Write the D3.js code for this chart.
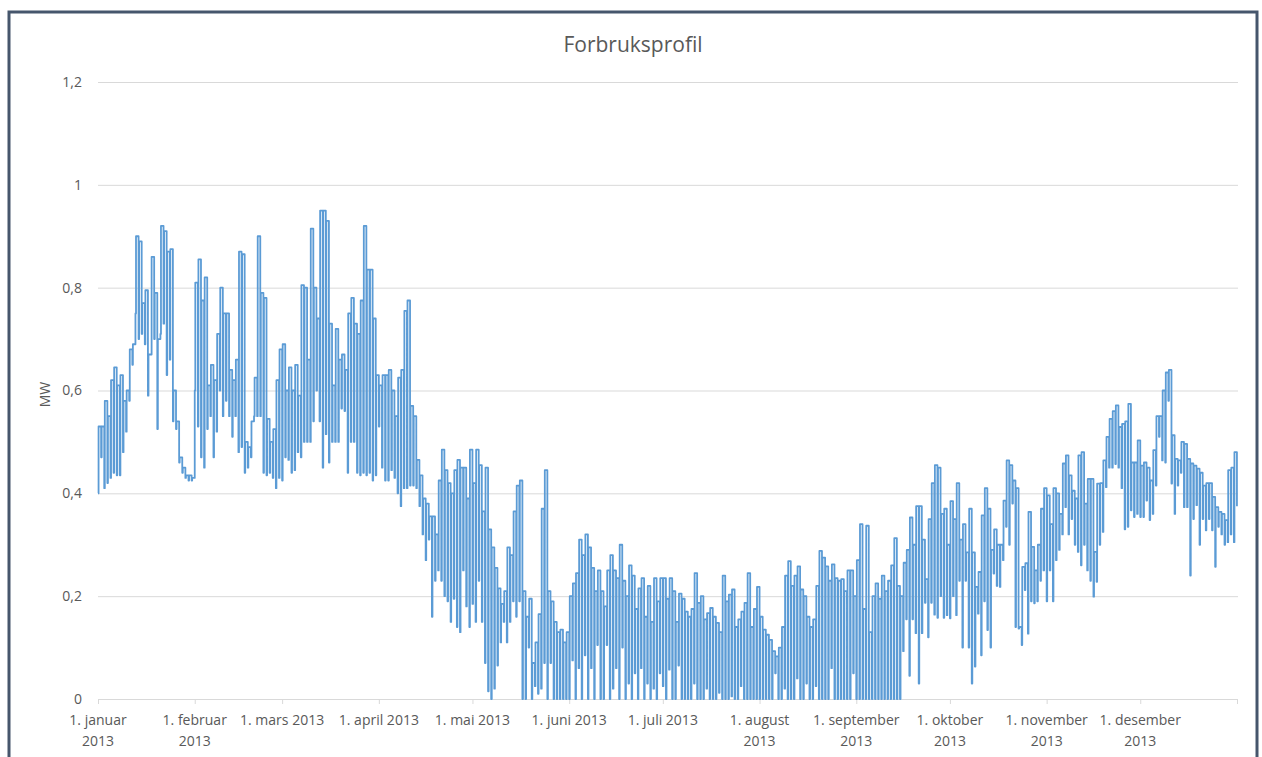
<!DOCTYPE html>
<html><head><meta charset="utf-8">
<script src="https://cdn.jsdelivr.net/npm/d3@7"></script>
<style>
html,body{margin:0;padding:0;background:#fff;}
svg{display:block;}
text{font-family:"Open Sans","Liberation Sans",Arial,sans-serif;fill:#595959;}
</style></head>
<body>
<svg id="chart" width="1262" height="757"></svg>
<script>
// ---- data ----
const title = "Forbruksprofil";
const yTitle = "MW";
const yTicks = [0, 0.2, 0.4, 0.6, 0.8, 1, 1.2];
const monthStartDays = [0, 31, 59, 90, 120, 151, 181, 212, 243, 273, 304, 334];
const monthLabels = [
  ["1. januar", "2013"], ["1. februar", "2013"], ["1. mars 2013"], ["1. april 2013"],
  ["1. mai 2013"], ["1. juni 2013"], ["1. juli 2013"], ["1. august", "2013"],
  ["1. september", "2013"], ["1. oktober", "2013"], ["1. november", "2013"], ["1. desember", "2013"]
];
const daysInYear = 365;

// daily peak (MW)
const dailyHigh = [
  // jan
  0.53,0.53,0.58,0.55,0.62, 0.645,0.61,0.63,0.58,0.60, 0.68,0.69,0.90,0.89,0.77, 0.795,0.67,0.86,0.79,0.70, 0.92,0.91,0.87,0.875,0.60, 0.54,0.47,0.45,0.435,0.435, 0.43,
  // feb
  0.81,0.855,0.775,0.82,0.61, 0.65,0.62,0.71,0.80,0.75, 0.75,0.64,0.62,0.66,0.87, 0.865,0.50,0.49,0.54,0.625, 0.90,0.79,0.78,0.545,0.50, 0.525,0.62,0.68,
  // mar
  0.69,0.60,0.645,0.60,0.65, 0.59,0.805,0.80,0.66,0.915, 0.80,0.74,0.95,0.95,0.93, 0.73,0.61,0.72,0.66,0.67, 0.64,0.75,0.78,0.73,0.71, 0.775,0.92,0.835,0.835,0.74, 0.63,
  // apr
  0.61,0.63,0.63,0.64,0.60, 0.55,0.625,0.64,0.755,0.775, 0.57,0.55,0.465,0.435,0.39, 0.38,0.355,0.355,0.32,0.425, 0.485,0.445,0.42,0.40,0.445, 0.465,0.45,0.45,0.39,0.485,
  // mai
  0.42,0.485,0.455,0.365,0.45, 0.33,0.295,0.255,0.215,0.185, 0.21,0.295,0.28,0.365,0.415, 0.425,0.21,0.16,0.195,0.07, 0.11,0.165,0.37,0.445,0.21, 0.19,0.15,0.13,0.135,0.11, 0.13,
  // jun
  0.20,0.225,0.245,0.31,0.28, 0.32,0.295,0.255,0.21,0.25, 0.21,0.18,0.25,0.28,0.25, 0.235,0.30,0.23,0.20,0.26, 0.24,0.175,0.215,0.235,0.16, 0.22,0.15,0.235,0.19,0.235,
  // jul
  0.235,0.195,0.235,0.21,0.15, 0.205,0.195,0.17,0.16,0.175, 0.245,0.187,0.20,0.155,0.167, 0.177,0.16,0.148,0.13,0.24, 0.19,0.203,0.213,0.14,0.155, 0.17,0.187,0.245,0.14,0.175, 0.218,
  // aug
  0.16,0.135,0.125,0.115,0.093, 0.083,0.10,0.14,0.24,0.268, 0.22,0.24,0.258,0.213,0.20, 0.16,0.14,0.155,0.22,0.288, 0.275,0.258,0.23,0.262,0.235, 0.23,0.233,0.21,0.25,0.25, 0.20,
  // sep
  0.27,0.34,0.175,0.337,0.13, 0.20,0.225,0.195,0.24,0.21, 0.23,0.26,0.313,0.22,0.20, 0.265,0.29,0.353,0.30,0.375, 0.375,0.31,0.233,0.35,0.42, 0.455,0.45,0.36,0.37,0.30,
  // okt
  0.385,0.35,0.42,0.31,0.34, 0.285,0.37,0.285,0.218,0.247, 0.357,0.41,0.37,0.29,0.33, 0.30,0.30,0.386,0.464,0.455, 0.425,0.41,0.14,0.257,0.264, 0.364,0.296,0.25,0.30,0.37, 0.41,
  // nov
  0.396,0.34,0.41,0.40,0.36, 0.458,0.474,0.435,0.405,0.39, 0.474,0.48,0.38,0.428,0.428, 0.286,0.419,0.42,0.464,0.51, 0.545,0.56,0.571,0.529,0.535, 0.54,0.574,0.46,0.46,0.503,
  // des
  0.454,0.46,0.45,0.425,0.484, 0.55,0.55,0.60,0.635,0.64, 0.513,0.467,0.464,0.50,0.496, 0.467,0.458,0.454,0.448,0.44, 0.415,0.42,0.42,0.393,0.373, 0.364,0.36,0.348,0.445,0.45, 0.48
];

// daily minimum (MW)
const dailyLow = [
  // jan
  0.40,0.47,0.41,0.42,0.43, 0.44,0.435,0.435,0.48,0.52, 0.58,0.65,0.75,0.70,0.71, 0.69,0.59,0.67,0.70,0.525, 0.71,0.73,0.63,0.66,0.54, 0.525,0.46,0.44,0.43,0.425, 0.425,
  // feb
  0.60,0.53,0.47,0.45,0.525, 0.55,0.47,0.52,0.60,0.55, 0.58,0.55,0.51,0.55,0.48, 0.49,0.44,0.45,0.47,0.55, 0.55,0.55,0.44,0.435,0.44, 0.43,0.41,0.43,
  // mar
  0.425,0.47,0.465,0.44,0.445, 0.48,0.47,0.50,0.50,0.50, 0.54,0.60,0.54,0.45,0.515, 0.46,0.50,0.50,0.50,0.565, 0.56,0.44,0.50,0.50,0.44, 0.435,0.44,0.435,0.44,0.425, 0.435,
  // apr
  0.53,0.45,0.425,0.425,0.445, 0.43,0.40,0.375,0.41,0.41, 0.415,0.415,0.41,0.375,0.32, 0.27,0.31,0.16,0.23,0.25, 0.23,0.20,0.19,0.15,0.195, 0.14,0.13,0.25,0.18,0.14,
  // mai
  0.185,0.15,0.23,0.15,0.07, 0.015,0.0,0.02,0.065,0.11, 0.15,0.11,0.15,0.19,0.16, 0.19,0.0,0.0,0.10,0.0, 0.025,0.01,0.02,0.07,0.0, 0.07,0.0,0.0,0.0,0.0, 0.0,
  // jun
  0.0,0.075,0.0,0.06,0.0, 0.085,0.0,0.06,0.0,0.105, 0.0,0.0,0.105,0.0,0.02, 0.06,0.0,0.10,0.0,0.03, 0.0,0.05,0.0,0.06,0.0, 0.03,0.0,0.02,0.0,0.05,
  // jul
  0.025,0.0,0.057,0.0,0.0, 0.065,0.0,0.0,0.0,0.0, 0.03,0.0,0.0,0.0,0.02, 0.0,0.0,0.0,0.012,0.0, 0.0,0.0,0.005,0.0,0.0, 0.025,0.0,0.0,0.0,0.0, 0.0,
  // aug
  0.0,0.0,0.0,0.0,0.0, 0.05,0.0,0.0,0.02,0.0, 0.0,0.0,0.04,0.0,0.0, 0.03,0.0,0.0,0.025,0.0, 0.0,0.0,0.0,0.06,0.0, 0.0,0.0,0.0,0.0,0.0, 0.05,
  // sep
  0.0,0.0,0.0,0.0,0.0, 0.0,0.0,0.0,0.0,0.0, 0.0,0.0,0.0,0.0,0.0, 0.093,0.155,0.045,0.155,0.128, 0.03,0.128,0.187,0.12,0.187, 0.164,0.158,0.2,0.158,0.163,
  // okt
  0.157,0.2,0.163,0.23,0.10, 0.23,0.10,0.03,0.063,0.166, 0.085,0.19,0.134,0.10,0.244, 0.22,0.218,0.27,0.335,0.30, 0.38,0.14,0.137,0.105,0.212, 0.127,0.19,0.186,0.19,0.23, 0.25,
  // nov
  0.19,0.25,0.19,0.27,0.29, 0.32,0.373,0.32,0.35,0.30, 0.286,0.26,0.30,0.25,0.23, 0.199,0.228,0.30,0.325,0.412, 0.45,0.45,0.457,0.45,0.41, 0.33,0.335,0.367,0.354,0.36,
  // des
  0.354,0.354,0.386,0.348,0.36, 0.415,0.51,0.464,0.46,0.58, 0.419,0.36,0.415,0.44,0.373, 0.373,0.24,0.35,0.377,0.30, 0.35,0.328,0.35,0.328,0.257, 0.335,0.32,0.30,0.305,0.32, 0.305
];

// ---- layout ----
const W = 1262, H = 757;
const plot = {left: 98, right: 1237, top: 82, bottom: 699};
const svg = d3.select("#chart");

svg.append("rect").attr("x", 0).attr("y", 0).attr("width", W).attr("height", H).attr("fill", "#fff");
// outer frame
svg.append("rect").attr("x", 9).attr("y", 12).attr("width", 1248).attr("height", 780)
  .attr("fill", "none").attr("stroke", "#46566c").attr("stroke-width", 3);

const x = d3.scaleLinear().domain([0, daysInYear]).range([plot.left, plot.right]);
const y = d3.scaleLinear().domain([0, 1.2]).range([plot.bottom, plot.top]);

// gridlines
svg.append("g")
  .attr("transform", `translate(${plot.left},0)`)
  .call(d3.axisLeft(y).tickValues(yTicks.filter(v => v > 0)).tickSize(-(plot.right - plot.left + 1)).tickFormat(""))
  .call(g => g.select(".domain").remove())
  .call(g => g.selectAll("line").attr("stroke", "#d9d9d9").attr("stroke-width", 1));

// y tick labels
const fmt = v => String(+v.toFixed(1)).replace(".", ",");
svg.append("g").selectAll("text").data(yTicks).join("text")
  .attr("x", 82).attr("y", d => y(d)).attr("dy", "0.35em")
  .attr("text-anchor", "end").attr("font-size", 14).text(fmt);

// x axis
const xAxis = svg.append("g")
  .attr("transform", `translate(0,${plot.bottom})`)
  .call(d3.axisBottom(x).tickValues(monthStartDays.concat([daysInYear])).tickSize(5).tickFormat(""));
xAxis.select(".domain").attr("stroke", "#d9d9d9");
xAxis.selectAll(".tick line").attr("stroke", "#d9d9d9");

const labG = svg.append("g");
monthStartDays.forEach((d, i) => {
  const t = labG.append("text").attr("text-anchor", "middle").attr("font-size", 14);
  monthLabels[i].forEach((line, k) => {
    t.append("tspan").attr("x", x(d)).attr("y", 725 + k * 21).text(line);
  });
});

// series: each day drops briefly to its minimum, then holds its peak level
const pts = [];
dailyHigh.forEach((h, i) => {
  pts.push({t: i, v: dailyLow[i]});
  pts.push({t: i + 0.18, v: h});
});
pts.push({t: daysInYear - 0.02, v: dailyLow[dailyLow.length - 1] + 0.07});

const line = d3.line().x(d => x(d.t)).y(d => y(d.v)).curve(d3.curveStepAfter);
svg.append("path").datum(pts)
  .attr("fill", "none").attr("stroke", "#5b9bd5").attr("stroke-width", 1.8)
  .attr("stroke-linejoin", "round").attr("d", line);

// titles
svg.append("text").attr("x", 633).attr("y", 52).attr("text-anchor", "middle")
  .attr("font-size", 21).text(title);
svg.append("text").attr("transform", `translate(50,${(plot.top + plot.bottom) / 2 + 4}) rotate(-90)`)
  .attr("text-anchor", "middle").attr("font-size", 14).text(yTitle);
</script>
</body></html>
